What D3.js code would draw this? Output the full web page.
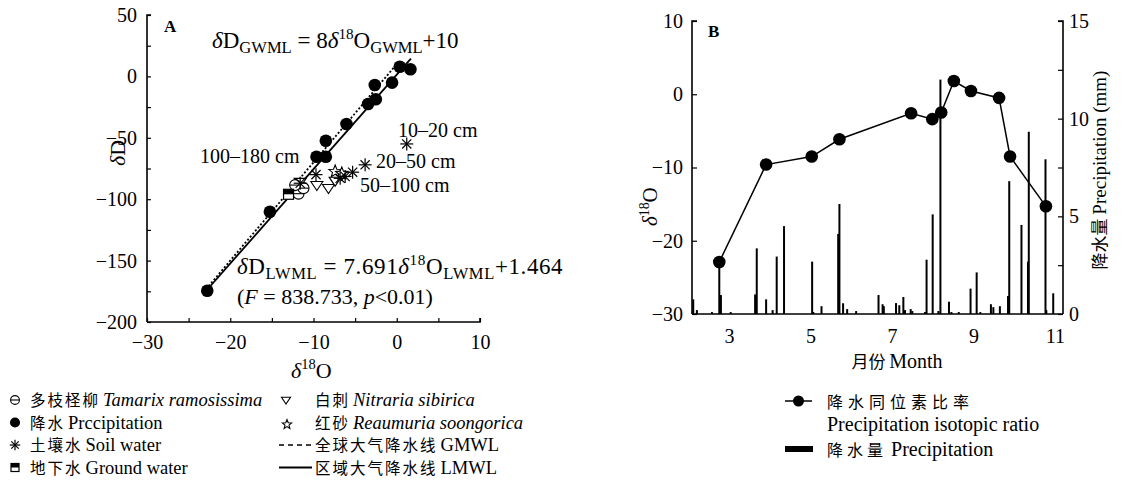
<!DOCTYPE html>
<html><head><meta charset="utf-8">
<script src="https://cdn.jsdelivr.net/npm/d3@7"></script>
<style>
body{margin:0;background:#fff;}
svg{font-family:"Liberation Serif","Noto Sans CJK SC",serif;}
.cjk{font-family:"Noto Sans CJK SC","Liberation Serif",sans-serif;}
</style></head><body>
<svg id="c" width="1124" height="482"></svg>
<script>
// ---------- Panel A data ----------
const precipO = [0.36, 1.64, -2.64, -0.56, -3.44, -2.52, -6.04, -8.52, -9.64, -8.52, -15.24, -22.76];
const precipD = [7.9, 5.8, -7.0, -5.1, -22.5, -18.6, -38.8, -52.4, -65.4, -65.4, -110.2, -174.5];
const soilO = [1.2, -3.8, -5.3, -6.2, -6.8, -9.7, -11.6];
const soilD = [-55, -72, -78, -81.5, -83, -80, -87];
const groundO = [-13.0];
const groundD = [-96];
const tamarixO = [-11.8, -11.2, -12.2];
const tamarixD = [-95.5, -91, -88.5];
const nitrariaO = [-11.6, -9.6, -8.2, -7.4];
const nitrariaD = [-86, -88.5, -91, -85];
const reaumuriaO = [-7.4, -6.6];
const reaumuriaD = [-77.5, -79];
const gmwlRange = [-22.6, 0];
const lmwlRange = [-22.7, 1.7];
const xTicksA = [-30, -25, -20, -15, -10, -5, 0, 5, 10];
const yTicksA = [-200, -175, -150, -125, -100, -75, -50, -25, 0, 25, 50];

// ---------- Panel B data ----------
const isoMonth = [2.76, 3.91, 5.03, 5.71, 7.47, 7.99, 8.21, 8.52, 8.94, 9.63, 9.90, 10.78];
const isoValue = [-22.9, -9.6, -8.5, -6.15, -2.6, -3.4, -2.5, 1.8, 0.45, -0.5, -8.5, -15.3];
const rainMonth = [2.12, 2.21, 2.58, 2.76, 2.80, 3.04, 3.64, 3.68, 3.91, 4.07, 4.17, 4.35, 5.04, 5.07, 5.27, 5.68, 5.71, 5.80, 5.90, 6.12, 6.67, 6.77, 6.80, 7.10, 7.18, 7.28, 7.32, 7.46, 7.50, 7.81, 7.85, 8.00, 8.14, 8.19, 8.40, 8.46, 8.64, 8.93, 9.08, 9.17, 9.43, 9.49, 9.65, 9.85, 9.88, 10.18, 10.34, 10.36, 10.77, 10.79, 10.96];
const rainMM = [0.75, 0.2, 0.1, 2.66, 0.97, 0.1, 1.0, 3.36, 0.75, 0.2, 2.94, 4.5, 2.68, 0.1, 0.4, 4.1, 5.63, 0.55, 0.25, 0.15, 0.97, 0.5, 0.4, 0.56, 0.45, 0.87, 0.2, 0.25, 0.15, 0.1, 2.78, 5.1, 0.15, 12.0, 0.63, 0.1, 0.1, 1.3, 2.13, 0.1, 0.5, 0.35, 0.4, 0.92, 6.8, 4.56, 2.68, 9.33, 7.92, 0.2, 1.06];
const xTicksB = [3, 5, 7, 9, 11];
const yTicksBL = [-30, -20, -10, 0, 10];
const yTicksBR = [0, 2.5, 5, 7.5, 10, 12.5, 15];

const svg = d3.select("#c");
const FS = 20;

// ---------- Panel A ----------
const xA = d3.scaleLinear().domain([-30, 10]).range([147, 480]);
const yA = d3.scaleLinear().domain([-200, 50]).range([322, 15]);
const gA = svg.append("g");

const fmt = d => d3.format("d")(d).replace("-", "\u2212");
const axXA = d3.axisBottom(xA).tickValues(xTicksA).tickSize(-4).tickPadding(13)
  .tickFormat(d => d % 10 === 0 ? fmt(d) : "");
const axYA = d3.axisLeft(yA).tickValues(yTicksA).tickSize(-4).tickPadding(10)
  .tickFormat(d => d % 50 === 0 ? fmt(d) : "");
function styleAxis(g){
  g.attr("font-family","Liberation Serif");
  g.select(".domain").attr("stroke","#000").attr("stroke-width",1.6);
  g.selectAll(".tick line").attr("stroke","#000").attr("stroke-width",1.2);
  g.selectAll(".tick text").attr("font-size",FS).attr("font-family","Liberation Serif").attr("fill","#000");
}
gA.append("g").attr("transform","translate(0,322)").call(axXA).call(styleAxis).call(g=>g.select(".domain").attr("d","M147,0H480V-4"));
gA.append("g").attr("transform","translate(147,0)").call(axYA).call(styleAxis).call(g=>g.select(".domain").attr("d","M4,15H0V322"));

// lines
const line = d3.line().x(d=>xA(d[0])).y(d=>yA(d[1]));
gA.append("path").attr("d", line(gmwlRange.map(x=>[x, 8*x+10]))).attr("fill","none")
  .attr("stroke","#000").attr("stroke-width",1.8).attr("stroke-dasharray","2,2");
gA.append("path").attr("d", line(lmwlRange.map(x=>[x, 7.691*x+1.464]))).attr("fill","none")
  .attr("stroke","#000").attr("stroke-width",1.8);

// symbol helpers
function drawSym(g, type, cx, cy, s){
  s = s || 1;
  if(type==="tamarix"){
    g.append("circle").attr("cx",cx).attr("cy",cy).attr("r",5.5*s).attr("fill","#fff").attr("stroke","#000").attr("stroke-width",1.1);
    g.append("line").attr("x1",cx-5.5*s).attr("x2",cx+5.5*s).attr("y1",cy).attr("y2",cy).attr("stroke","#000").attr("stroke-width",1.1);
  } else if(type==="precip"){
    g.append("circle").attr("cx",cx).attr("cy",cy).attr("r",6.3*s).attr("fill","#000");
  } else if(type==="soil"){
    const r=6.5*s;
    [[0,1],[1,0],[0.707,0.707],[0.707,-0.707]].forEach(([a,b])=>{
      g.append("line").attr("x1",cx-a*r).attr("x2",cx+a*r).attr("y1",cy-b*r).attr("y2",cy+b*r).attr("stroke","#000").attr("stroke-width",1.2);
    });
  } else if(type==="ground"){
    const h=5*s;
    g.append("rect").attr("x",cx-h).attr("y",cy-h).attr("width",2*h).attr("height",2*h).attr("fill","#fff").attr("stroke","#000").attr("stroke-width",1.2);
    g.append("rect").attr("x",cx-h).attr("y",cy-h).attr("width",2*h).attr("height",h).attr("fill","#000");
  } else if(type==="nitraria"){
    const r=6*s;
    g.append("path").attr("d",`M${cx-r},${cy-r*0.6}L${cx+r},${cy-r*0.6}L${cx},${cy+r*0.9}Z`).attr("fill","#fff").attr("stroke","#000").attr("stroke-width",1.1);
  } else if(type==="reaumuria"){
    const R=6.5*s, r=2.8*s; let p="";
    for(let i=0;i<10;i++){const a=-Math.PI/2+i*Math.PI/5; const rr=i%2?r:R; p+=(i?"L":"M")+(cx+rr*Math.cos(a))+","+(cy+rr*Math.sin(a));}
    g.append("path").attr("d",p+"Z").attr("fill","#fff").attr("stroke","#000").attr("stroke-width",1.1);
  }
}
const gPts = gA.append("g");
nitrariaO.forEach((x,i)=>drawSym(gPts,"nitraria",xA(x),yA(nitrariaD[i])));
tamarixO.forEach((x,i)=>drawSym(gPts,"tamarix",xA(x),yA(tamarixD[i])));
reaumuriaO.forEach((x,i)=>drawSym(gPts,"reaumuria",xA(x),yA(reaumuriaD[i])));
groundO.forEach((x,i)=>drawSym(gPts,"ground",xA(x),yA(groundD[i])));
soilO.forEach((x,i)=>drawSym(gPts,"soil",xA(x),yA(soilD[i])));
precipO.forEach((x,i)=>drawSym(gPts,"precip",xA(x),yA(precipD[i])));

// annotations
function rich(g, x, y, parts, size){
  const t = g.append("text").attr("x",x).attr("y",y).attr("font-size",size).attr("fill","#000");
  parts.forEach(p=>{
    const ts = t.append("tspan").text(p.t);
    if(p.i) ts.attr("font-style","italic");
    if(p.sub) ts.attr("font-size",size*0.72).attr("dy", size*0.22);
    if(p.sup) ts.attr("font-size",size*0.66).attr("dy", -size*0.4);
    if(p.back) ts.attr("dy", p.back*size);
  });
  return t;
}
gA.append("text").attr("x",164).attr("y",32).attr("font-weight","bold").attr("font-size",17).text("A");
rich(gA, 212, 48, [{t:"\u03b4",i:1},{t:"D"},{t:"GWML",sub:1},{t:" = 8",back:-0.22},{t:"\u03b4",i:1},{t:"18",sup:1},{t:"O",back:0.4},{t:"GWML",sub:1},{t:"+10",back:-0.22}], 23);
rich(gA, 237, 274, [{t:"\u03b4",i:1},{t:"D"},{t:"LWML",sub:1},{t:" = 7.691",back:-0.22},{t:"\u03b4",i:1},{t:"18",sup:1},{t:"O",back:0.4},{t:"LWML",sub:1},{t:"+1.464",back:-0.22}], 23)
  .attr("letter-spacing",0.6);
rich(gA, 237, 304, [{t:"("},{t:"F",i:1},{t:" = 838.733,  "},{t:"p",i:1},{t:"<0.01)"}], 22);
gA.append("text").attr("x",398).attr("y",137).attr("font-size",20).text("10\u201320 cm");
gA.append("text").attr("x",376).attr("y",168).attr("font-size",20).text("20\u201350 cm");
gA.append("text").attr("x",360).attr("y",192).attr("font-size",20).text("50\u2013100 cm");
gA.append("text").attr("x",200).attr("y",163).attr("font-size",20).text("100\u2013180 cm");

// axis titles A
rich(gA, 0, 0, [{t:"\u03b4",i:1},{t:"D"}], 22).attr("transform","translate(125,166) rotate(-90)");
rich(gA, 291, 378, [{t:"\u03b4",i:1},{t:"18",sup:1},{t:"O",back:0.4}], 22);

// legend A
const legA = svg.append("g");
const rowsA = [400, 422.5, 445, 467.5];
drawSym(legA,"tamarix",15,rowsA[0],0.8);
drawSym(legA,"precip",15,rowsA[1],0.8);
drawSym(legA,"soil",15,rowsA[2],0.8);
drawSym(legA,"ground",15,rowsA[3],0.8);
function legText(g,x,y,cn,en,it){
  const t=g.append("text").attr("x",x).attr("y",y+6).attr("font-size",18.5);
  t.append("tspan").attr("class","cjk").attr("font-size",15.5).attr("letter-spacing",2).text(cn);
  const e=t.append("tspan").attr("dx",3).text(en); if(it) e.attr("font-style","italic");
}
legText(legA,30,rowsA[0],"多枝柽柳","Tamarix ramosissima",1);
legText(legA,30,rowsA[1],"降水","Prccipitation",0);
legText(legA,30,rowsA[2],"土壤水","Soil water",0);
legText(legA,30,rowsA[3],"地下水","Ground water",0);
drawSym(legA,"nitraria",286,rowsA[0],0.75);
drawSym(legA,"reaumuria",287,rowsA[1]+2,0.75);
legA.append("line").attr("x1",279).attr("x2",312).attr("y1",rowsA[2]).attr("y2",rowsA[2]).attr("stroke","#000").attr("stroke-width",1.6).attr("stroke-dasharray","5,4");
legA.append("line").attr("x1",279).attr("x2",312).attr("y1",rowsA[3]).attr("y2",rowsA[3]).attr("stroke","#000").attr("stroke-width",1.8);
legText(legA,315,rowsA[0],"白刺","Nitraria sibirica",1);
legText(legA,315,rowsA[1],"红砂","Reaumuria soongorica",1);
legText(legA,315,rowsA[2],"全球大气降水线","GMWL",0);
legText(legA,315,rowsA[3],"区域大气降水线","LMWL",0);

// ---------- Panel B ----------
const xB = d3.scaleLinear().domain([2.09, 11.2]).range([692, 1063]);
const yBL = d3.scaleLinear().domain([-30, 10]).range([314, 21]);
const yBR = d3.scaleLinear().domain([0, 15]).range([314, 21]);
const gB = svg.append("g");

// bars
gB.append("g").selectAll("rect").data(rainMonth).join("rect")
  .attr("x",(d)=>xB(d)-1).attr("width",2)
  .attr("y",(d,i)=>yBR(rainMM[i])).attr("height",(d,i)=>yBR(0)-yBR(rainMM[i]))
  .attr("fill","#000");

const axXB = d3.axisBottom(xB).tickValues(xTicksB).tickSize(0).tickPadding(15).tickFormat(d3.format("d"));
const axYBL = d3.axisLeft(yBL).tickValues(yTicksBL).tickSize(-5).tickPadding(9).tickFormat(fmt);
const axYBR = d3.axisRight(yBR).tickValues(yTicksBR).tickSize(-5).tickPadding(6)
  .tickFormat(d => d % 5 === 0 ? d3.format("d")(d) : "");
gB.append("g").attr("transform","translate(0,314)").call(axXB).call(styleAxis).call(g=>g.select(".domain").attr("d","M692,0H1063"));
gB.append("g").attr("transform","translate(692,0)").call(axYBL).call(styleAxis).call(g=>g.select(".domain").attr("d","M5,21H0V314"));
gB.append("g").attr("transform","translate(1063,0)").call(axYBR).call(styleAxis).call(g=>g.select(".domain").attr("d","M-5,21H0V314"));

// isotope line
const lineB = d3.line().x((d,i)=>xB(isoMonth[i])).y((d,i)=>yBL(isoValue[i]));
gB.append("path").attr("d", lineB(isoMonth)).attr("fill","none").attr("stroke","#000").attr("stroke-width",1.5);
gB.append("g").selectAll("circle").data(isoMonth).join("circle")
  .attr("cx",d=>xB(d)).attr("cy",(d,i)=>yBL(isoValue[i])).attr("r",6.3).attr("fill","#000");

gB.append("text").attr("x",708).attr("y",37).attr("font-weight","bold").attr("font-size",17).text("B");
rich(gB, 0, 0, [{t:"\u03b4",i:1},{t:"18",sup:1},{t:"O",back:0.4}], 21).attr("transform","translate(657,226) rotate(-90)");
const tm = gB.append("text").attr("x",897).attr("y",368).attr("text-anchor","middle").attr("font-size",20);
tm.append("tspan").attr("class","cjk").attr("font-size",17).text("月份 ");
tm.append("tspan").text("Month");
const tr = gB.append("text").attr("transform","translate(1106,170) rotate(-90)").attr("text-anchor","middle").attr("font-size",19);
tr.append("tspan").attr("class","cjk").attr("font-size",17).text("降水量 ");
tr.append("tspan").text("Precipitation (mm)");

// legend B
const legB = svg.append("g");
legB.append("line").attr("x1",785).attr("x2",812).attr("y1",401).attr("y2",401).attr("stroke","#000").attr("stroke-width",1.5);
legB.append("circle").attr("cx",798.5).attr("cy",401).attr("r",5.5).attr("fill","#000");
legB.append("text").attr("x",827).attr("y",408).attr("class","cjk").attr("font-size",16).attr("letter-spacing",5).text("降水同位素比率");
legB.append("text").attr("x",827).attr("y",431).attr("font-size",20).text("Precipitation isotopic ratio");
legB.append("rect").attr("x",785).attr("y",446).attr("width",28).attr("height",6).attr("fill","#000");
const lb = legB.append("text").attr("x",827).attr("y",456).attr("font-size",20);
lb.append("tspan").attr("class","cjk").attr("font-size",16).attr("letter-spacing",4).text("降水量");
lb.append("tspan").attr("dx",4).text("Precipitation");
</script></body></html>
